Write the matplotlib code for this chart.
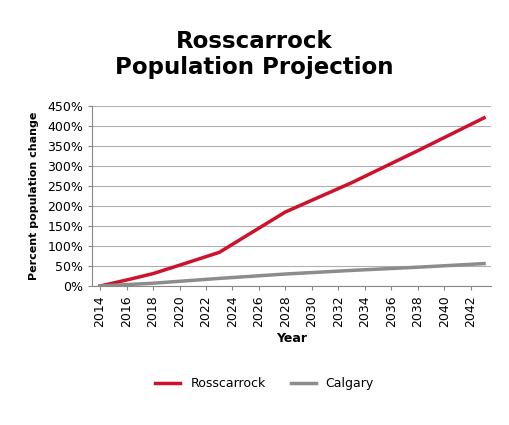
import matplotlib
matplotlib.use("Agg")
import matplotlib.pyplot as plt

years_r = [2014, 2016, 2018, 2020, 2023, 2028, 2033, 2038, 2043]
ross = [0, 15, 31, 52, 84, 185, 258, 338, 420]
years_c = [2014, 2018, 2023, 2028, 2033, 2038, 2043]
calg = [0, 7, 19, 30, 39, 47, 56]
xticks = list(range(2014, 2043, 2))
yticks = list(range(0, 451, 50))

fig = plt.figure(figsize=(5.09, 4.25), dpi=100)
ax = fig.add_axes([0.181, 0.327, 0.783, 0.424])
ax.plot(years_r, ross, color="#d0112b", lw=2.5, label="Rosscarrock")
ax.plot(years_c, calg, color="#8c8c8c", lw=2.5, label="Calgary")
ax.set_xlim(2013.4, 2043.5)
ax.set_ylim(0, 450)
ax.set_xticks(xticks)
ax.set_xticklabels([str(y) for y in xticks], rotation=90, fontsize=9)
ax.set_yticks(yticks)
ax.set_yticklabels([f"{y}%" for y in yticks], fontsize=9)
ax.grid(axis="y", color="#b0b0b0", lw=0.8)
ax.set_axisbelow(True)
for s in ["top", "right"]:
    ax.spines[s].set_visible(False)
ax.spines["left"].set_color("#888888")
ax.spines["bottom"].set_color("#888888")
ax.tick_params(length=3, color="#888888")
ax.set_xlabel("Year", fontsize=9, fontweight="bold")
ax.set_ylabel("Percent population change", fontsize=8, fontweight="bold", labelpad=6)
fig.suptitle("Rosscarrock\nPopulation Projection", fontsize=16.5, fontweight="bold", y=0.93)
fig.legend(loc="lower center", bbox_to_anchor=(0.52, 0.055), ncol=2, frameon=False, fontsize=9)
fig.savefig("out.png", dpi=100)
